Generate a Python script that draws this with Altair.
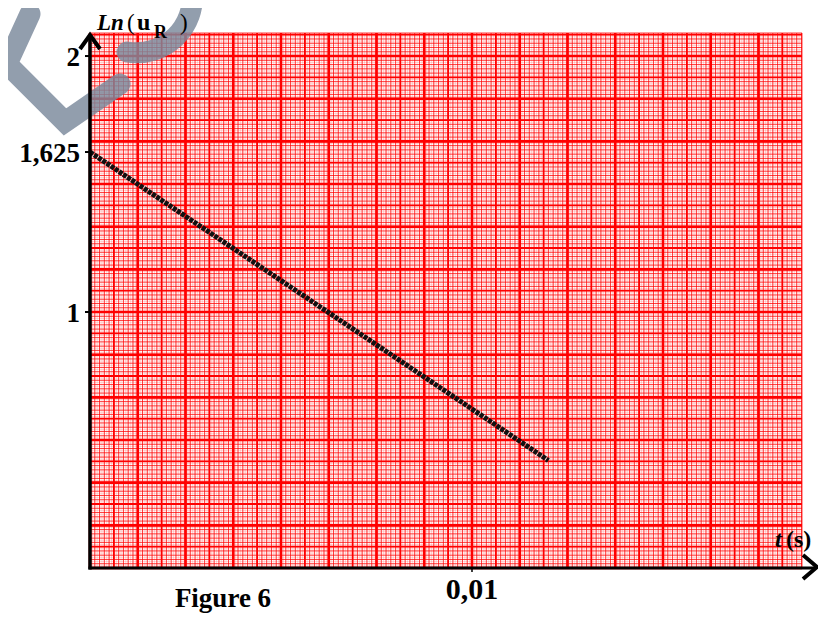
import altair as alt
import numpy as np
import pandas as pd

# ---- values ----
t_values = [0.0, 0.012]          # t (s)
ln_uR_values = [1.625, 0.42]     # Ln(u_R)

y_tick_values = [2, 1.625, 1]
y_tick_labels = ["2", "1,625", "1"]
x_tick_values = [0.01]
x_tick_labels = ["0,01"]

X_MAX = 0.018639
Y_MAX = 2.09
W, H = 712, 535

xs = alt.Scale(domain=[0, X_MAX], nice=False, zero=False)
ys = alt.Scale(domain=[0, Y_MAX], nice=False, zero=False)

RED = "#ff0000"
FONT = "Times New Roman, Liberation Serif, Tinos, serif"


def grid_df(step, vmax):
    n = int(np.floor(vmax / step + 1e-9))
    return pd.DataFrame({"v": np.arange(n + 1) * step})


def vgrid(step, width, opacity, color=RED):
    return alt.Chart(grid_df(step, X_MAX)).mark_rule(
        color=color, strokeWidth=width, opacity=opacity
    ).encode(x=alt.X("v:Q", scale=xs, axis=None))


def hgrid(step, width, opacity, color=RED):
    return alt.Chart(grid_df(step, Y_MAX)).mark_rule(
        color=color, strokeWidth=width, opacity=opacity
    ).encode(y=alt.Y("v:Q", scale=ys, axis=None))


one = pd.DataFrame({"a": [0]})

layers = []
# fine pink grid
layers.append(vgrid(0.0000625, 1, 0.16))
layers.append(hgrid(1 / 120, 1, 0.16))
# mm grid
layers.append(vgrid(0.000125, 1, 0.7))
layers.append(hgrid(1 / 60, 1, 0.7))
# 5 mm grid
layers.append(vgrid(0.000625, 1.8, 1))
layers.append(hgrid(1 / 12, 1.8, 1))
# 10 mm grid
layers.append(vgrid(0.00125, 2.6, 1))
layers.append(hgrid(1 / 6, 2.6, 1))

# edges of the paper
layers.append(alt.Chart(one).mark_rule(color=RED, strokeWidth=1.5, opacity=0.5).encode(
    x=alt.value(W), y=alt.value(0), y2=alt.value(H)))
layers.append(alt.Chart(one).mark_rule(color=RED, strokeWidth=1.5, opacity=0.5).encode(
    y=alt.value(0), x=alt.value(0), x2=alt.value(W)))

# watermark (page-pixel path placed at the page origin)
wm_path = "M30,14 L7,64 L65,122 L120,84 M127,52 A56,56 0 0 0 192,-10"
layers.append(alt.Chart(one).mark_point(
    shape=wm_path, size=4, filled=False, stroke="#7b899c", strokeWidth=21,
    strokeCap="round", strokeJoin="miter", opacity=0.82
).encode(x=alt.value(-90), y=alt.value(-33)))

# data line
line_df = pd.DataFrame({"t": t_values, "ln": ln_uR_values})
layers.append(alt.Chart(line_df).mark_line(
    color="#111111", strokeWidth=5, strokeDash=[4, 1]
).encode(x=alt.X("t:Q", scale=xs, axis=None), y=alt.Y("ln:Q", scale=ys, axis=None)))

# axes
layers.append(alt.Chart(one).mark_rule(color="black", strokeWidth=3.5).encode(
    x=alt.value(0), y=alt.value(3), y2=alt.value(H + 1.5)))
layers.append(alt.Chart(one).mark_rule(color="black", strokeWidth=3).encode(
    y=alt.value(H), x=alt.value(-1.5), x2=alt.value(726)))
layers.append(alt.Chart(one).mark_point(
    shape="M-10,14L0,0L10,14", size=4, filled=False, stroke="black",
    strokeWidth=4, opacity=1, strokeJoin="miter"
).encode(x=alt.value(0), y=alt.value(2)))
layers.append(alt.Chart(one).mark_point(
    shape="M-14,-12L0,0L-14,12", size=4, filled=False, stroke="black",
    strokeWidth=4, opacity=1, strokeJoin="miter"
).encode(x=alt.value(727), y=alt.value(534)))

# ticks and tick labels
ytick_df = pd.DataFrame({"v": y_tick_values, "lab": y_tick_labels})
layers.append(alt.Chart(ytick_df).mark_rule(color="black", strokeWidth=2).encode(
    y=alt.Y("v:Q", scale=ys, axis=None), x=alt.value(-5), x2=alt.value(0)))
layers.append(alt.Chart(ytick_df).mark_text(
    font=FONT, fontWeight="bold", fontSize=27, align="right",
    baseline="middle", dy=2, color="black"
).encode(y=alt.Y("v:Q", scale=ys, axis=None), x=alt.value(-10), text="lab:N"))

xtick_df = pd.DataFrame({"v": x_tick_values, "lab": x_tick_labels})
layers.append(alt.Chart(xtick_df).mark_rule(color="black", strokeWidth=1.5).encode(
    x=alt.X("v:Q", scale=xs, axis=None), y=alt.value(H), y2=alt.value(H + 4)))
layers.append(alt.Chart(xtick_df).mark_text(
    font=FONT, fontWeight="bold", fontSize=30, align="center",
    baseline="alphabetic", color="black"
).encode(x=alt.X("v:Q", scale=xs, axis=None), y=alt.value(566), text="lab:N"))


def txt(s, x, y, size, weight="bold", style="normal", align="left"):
    return alt.Chart(one).mark_text(
        text=s, font=FONT, fontSize=size, fontWeight=weight,
        fontStyle=style, align=align, baseline="alphabetic", color="black"
    ).encode(x=alt.value(x), y=alt.value(y))


# axis titles (kept inside the top edge of the page)
layers.append(txt("Ln", 7, -3, 23, "bold", "italic"))
layers.append(txt("(", 37, -3, 23, "normal"))
layers.append(txt("u", 47, -3, 24, "bold"))
layers.append(txt("R", 64, 5, 18, "bold"))
layers.append(txt(")", 90, -3, 23, "normal"))

layers.append(txt("t", 685, 514, 24, "bold", "italic"))
layers.append(txt("(s)", 696, 514, 24, "bold"))

# caption
layers.append(txt("Figure 6", 133, 574, 27, "bold", align="center"))

chart = alt.layer(*layers).properties(
    width=W, height=H,
    padding={"left": 82, "top": 25, "right": 16, "bottom": 48},
    autosize=alt.AutoSizeParams(type="none"),
).configure_view(stroke=None)

chart.save("out.html", embed_options={"renderer": "svg", "actions": False})
